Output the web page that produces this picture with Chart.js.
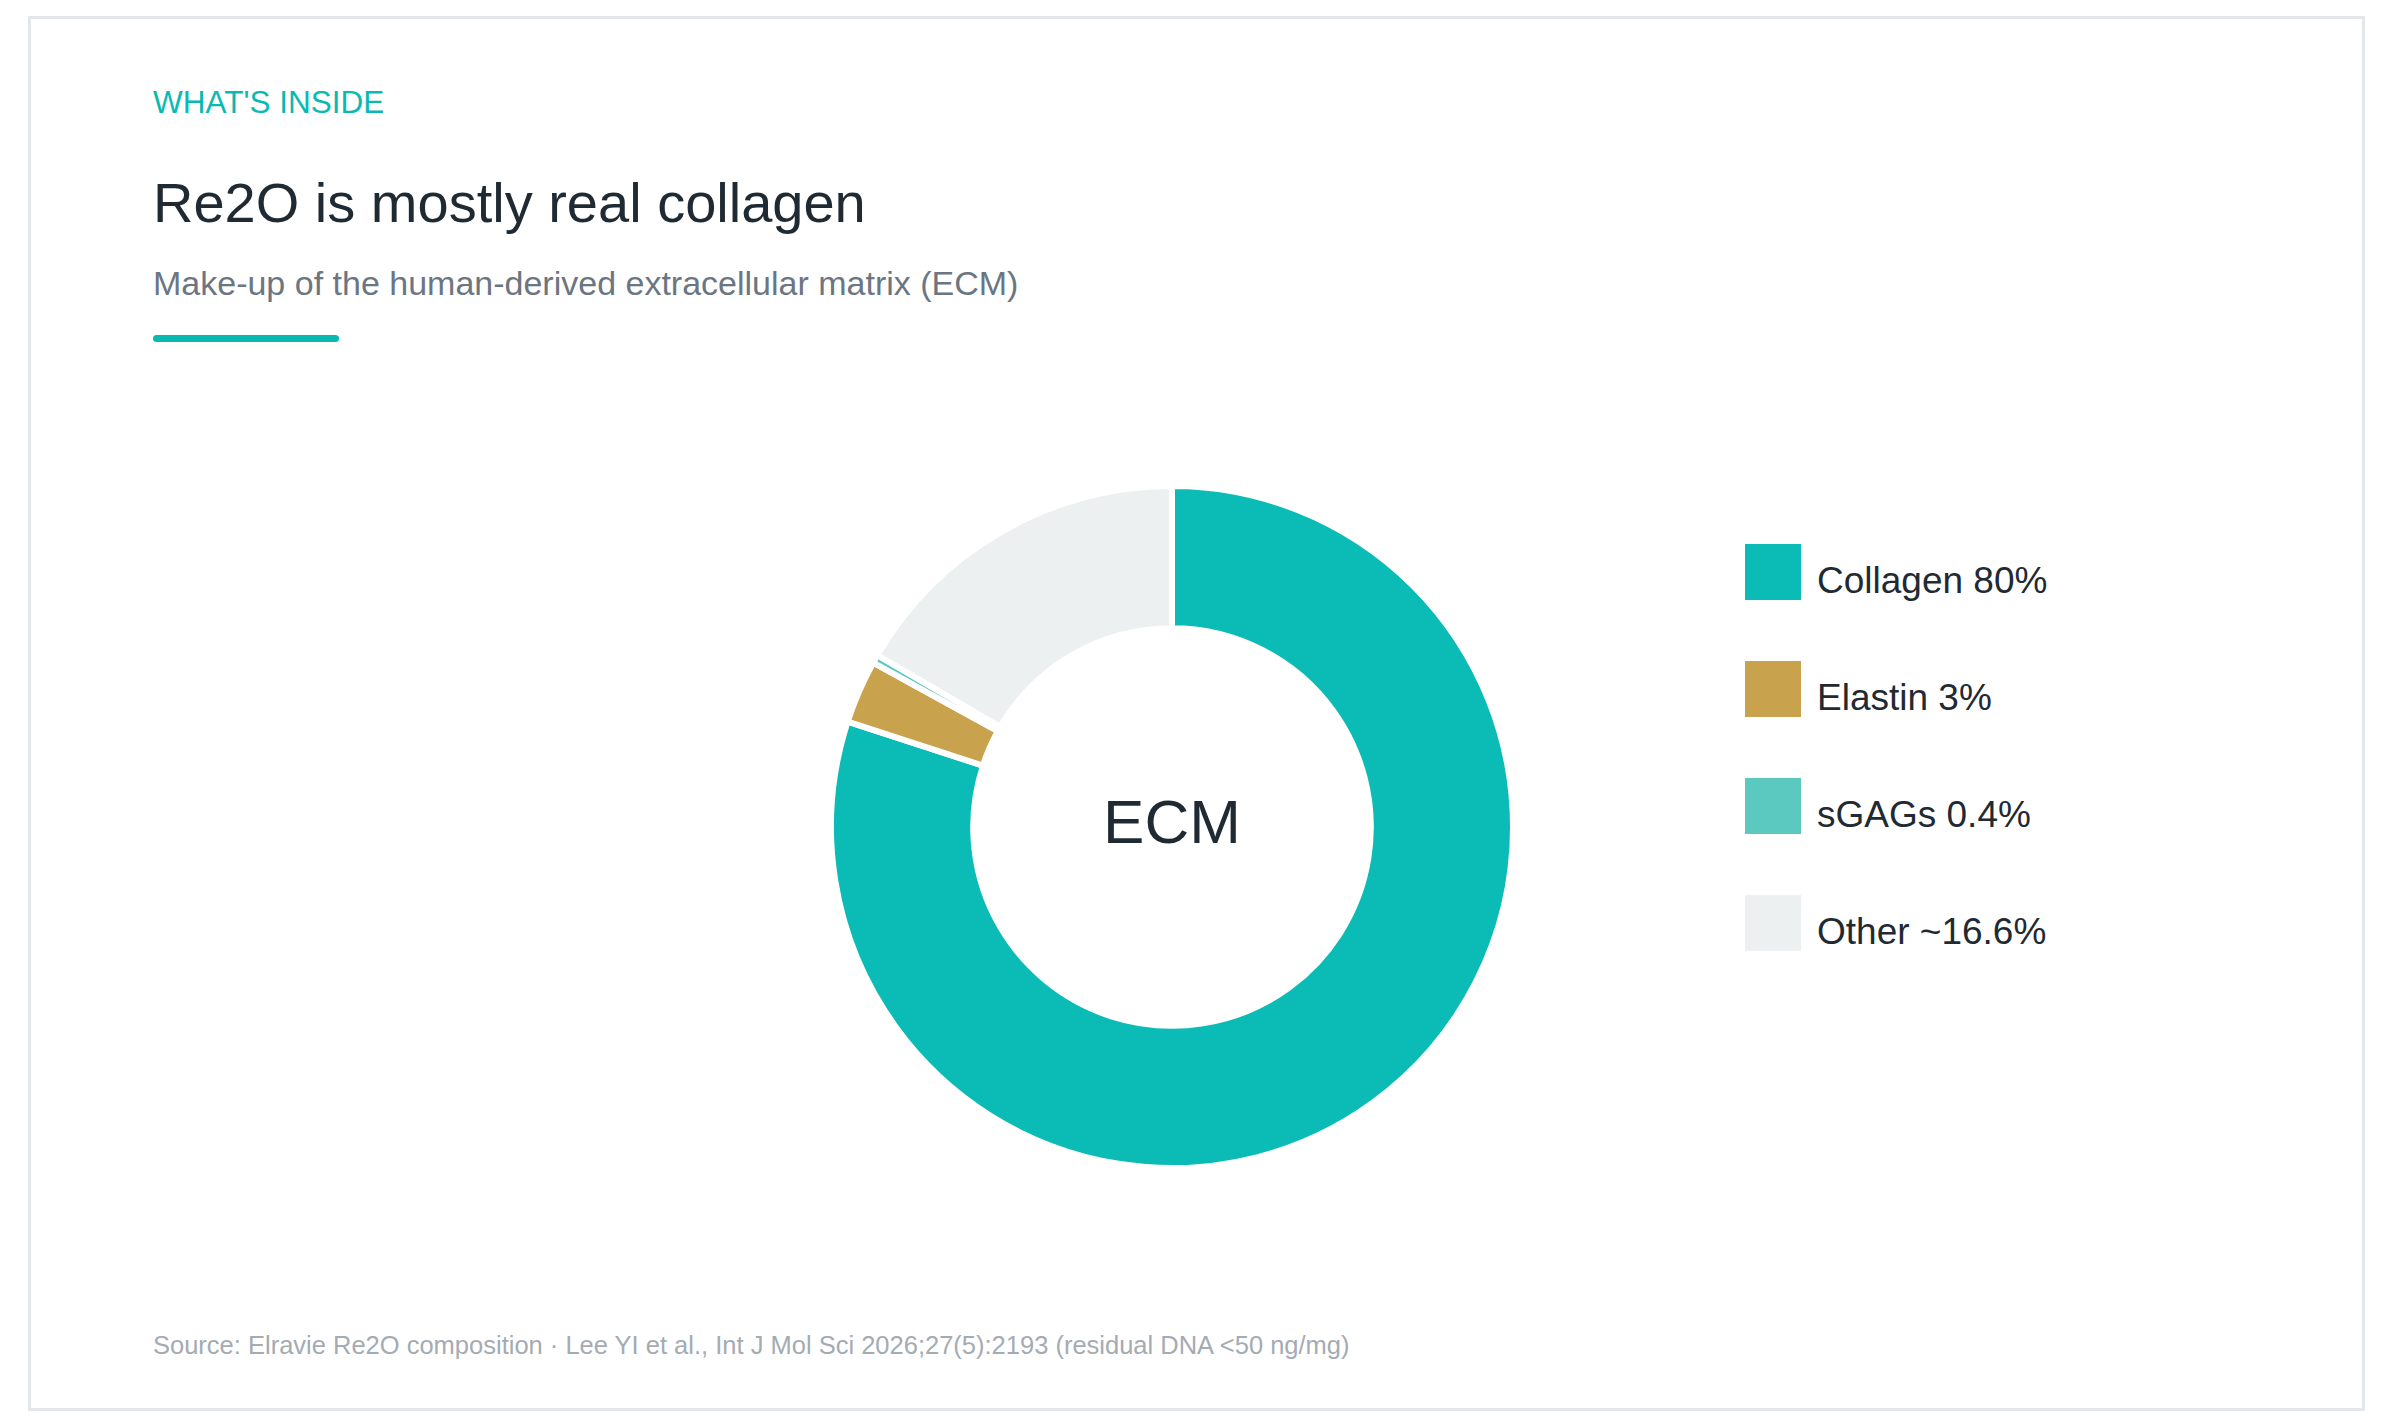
<!DOCTYPE html>
<html lang="en">
<head>
  <meta charset="UTF-8">
  <title>Re2O is mostly real collagen</title>
  <script src="https://cdn.jsdelivr.net/npm/chart.js"></script>
  <style>
    html, body { margin: 0; padding: 0; background: #fff; }
    body { width: 2392px; height: 1426px; position: relative; overflow: hidden;
           font-family: "Liberation Sans", Arial, sans-serif; }
    .card { position: absolute; left: 28px; top: 16px; width: 2337px; height: 1395px;
            box-sizing: border-box; border: 3px solid #e3e7ea; }
    .txt { position: absolute; left: 153px; white-space: nowrap; }
    #eyebrow { top: 87px; font-size: 31.5px; line-height: 31.5px; color: #0bb9b3; }
    #title { top: 175px; font-size: 56px; line-height: 56px; color: #1f2a33; }
    #subtitle { top: 266px; font-size: 34px; line-height: 34px; color: #6b7682; }
    #rule { position: absolute; left: 153px; top: 335px; width: 186px; height: 7px;
            border-radius: 4px; background: #0bb9b3; }
    #source { top: 1333px; font-size: 25.5px; line-height: 25.5px; color: #a4abb3; }
    #wrap { position: absolute; left: 828px; top: 483px; width: 688px; height: 688px; }
    #legend { position: absolute; left: 1745px; top: 544px; margin: 0; padding: 0; list-style: none; }
    #legend li { position: relative; height: 56px; margin-bottom: 61px; }
    #legend .box { position: absolute; left: 0; top: 0; width: 56px; height: 56px; }
    #legend .lbl { position: absolute; left: 72px; top: 18px; font-size: 37px; line-height: 37px;
                   color: #1f2a33; white-space: nowrap; }
  </style>
</head>
<body>
  <div class="card"></div>
  <div class="txt" id="eyebrow">WHAT'S INSIDE</div>
  <div class="txt" id="title">Re2O is mostly real collagen</div>
  <div class="txt" id="subtitle">Make-up of the human-derived extracellular matrix (ECM)</div>
  <div id="rule"></div>
  <div class="txt" id="source">Source: Elravie Re2O composition · Lee YI et al., Int J Mol Sci 2026;27(5):2193 (residual DNA &lt;50 ng/mg)</div>

  <div id="wrap"><canvas id="ecmChart"></canvas></div>
  <ul id="legend"></ul>

  <script>
    // composition of the ECM, in percent
    const components = ['Collagen', 'Elastin', 'sGAGs', 'Other'];
    const shares = [80, 3, 0.4, 16.6];
    const shareLabels = ['80%', '3%', '0.4%', '~16.6%'];
    const colors = ['#0bbbb5', '#c9a24d', '#5cc9c1', '#edf0f1'];
    const centerLabel = 'ECM';

    const font = '"Liberation Sans", Arial, sans-serif';

    // "ECM" in the hole of the ring
    const centerText = {
      id: 'centerText',
      afterDraw(chart) {
        const arc = chart.getDatasetMeta(0).data[0];
        if (!arc) return;
        const ctx = chart.ctx;
        ctx.save();
        ctx.font = '62px ' + font;
        ctx.fillStyle = '#1f2a33';
        ctx.textAlign = 'center';
        ctx.textBaseline = 'alphabetic';
        ctx.fillText(centerLabel, arc.x, arc.y + 16);
        ctx.restore();
      }
    };

    // legend as a list next to the canvas, from the chart's own legend items
    const htmlLegend = {
      id: 'htmlLegend',
      afterUpdate(chart) {
        const ul = document.getElementById('legend');
        ul.innerHTML = '';
        const items = chart.options.plugins.legend.labels.generateLabels(chart);
        items.forEach(item => {
          const li = document.createElement('li');
          const box = document.createElement('span');
          box.className = 'box';
          box.style.background = item.fillStyle;
          const lbl = document.createElement('span');
          lbl.className = 'lbl';
          lbl.textContent = item.text;
          li.appendChild(box);
          li.appendChild(lbl);
          ul.appendChild(li);
        });
      }
    };

    new Chart(document.getElementById('ecmChart'), {
      type: 'doughnut',
      data: {
        labels: components.map((c, i) => c + ' ' + shareLabels[i]),
        datasets: [{
          data: shares,
          backgroundColor: colors,
          borderColor: '#ffffff',
          borderWidth: 6,
          hoverOffset: 0
        }]
      },
      options: {
        responsive: true,
        maintainAspectRatio: false,
        animation: false,
        cutout: '58.3%',
        plugins: {
          tooltip: { enabled: false },
          legend: { display: false }
        }
      },
      plugins: [centerText, htmlLegend]
    });
  </script>
</body>
</html>
